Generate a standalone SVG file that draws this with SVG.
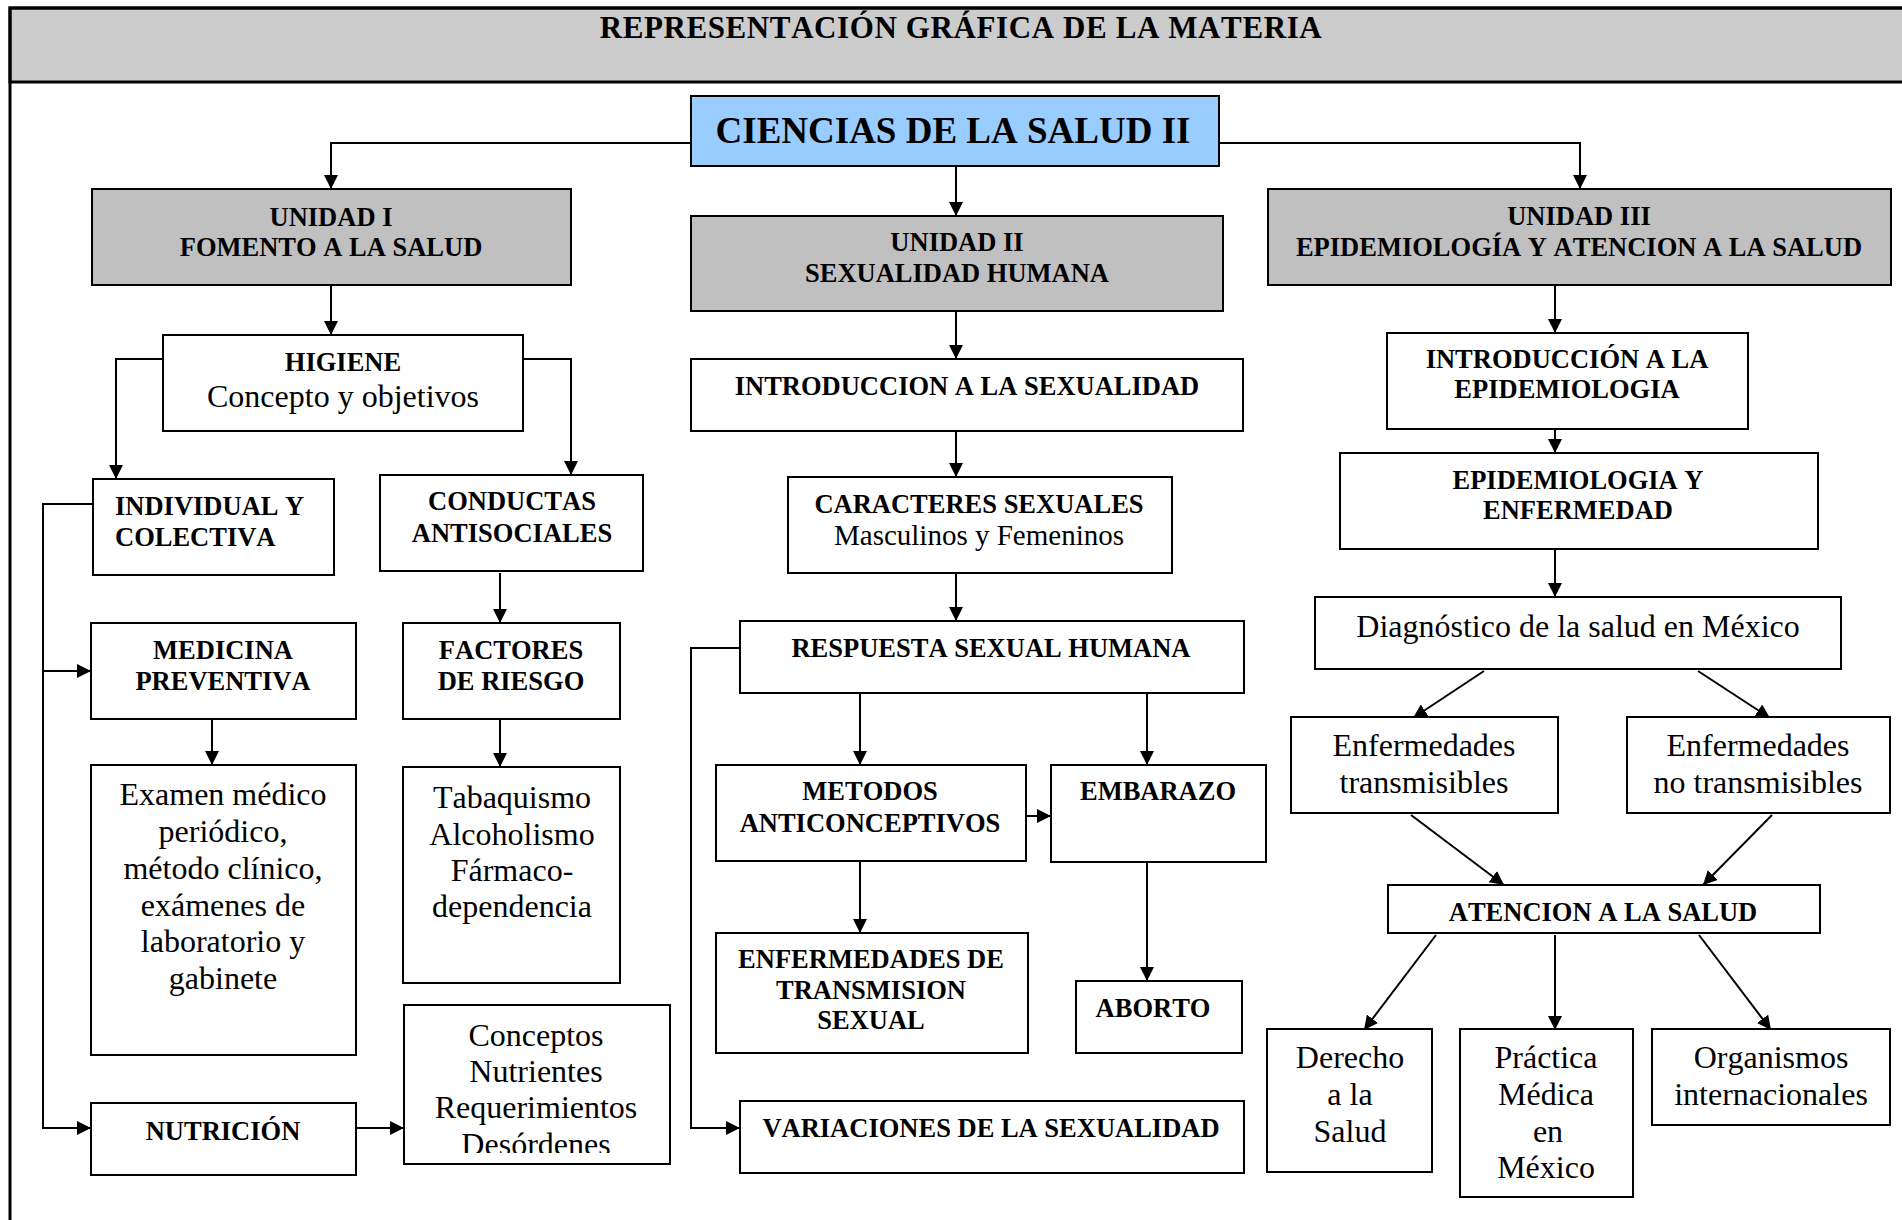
<svg xmlns="http://www.w3.org/2000/svg" width="1902" height="1220" viewBox="0 0 1902 1220">
<defs>
<style>
.box{fill:#ffffff;stroke:#000;stroke-width:2}
.unit{fill:#c0c0c0;stroke:#000;stroke-width:2}
.main{fill:#99ccff;stroke:#000;stroke-width:2}
text{font-family:"Liberation Serif","Times New Roman",serif;fill:#000;font-kerning:none}
.b{font-weight:bold;font-size:26.5px;text-anchor:middle}
.bl{font-weight:bold;font-size:26.5px;text-anchor:start}
.r{font-size:32px;text-anchor:middle}
.rs{font-size:29px;text-anchor:middle}
.conn path{fill:none;stroke:#000;stroke-width:2}
.conn .a{marker-end:url(#arr)}
</style>
<marker id="arr" markerUnits="userSpaceOnUse" markerWidth="14" markerHeight="14" refX="14" refY="7" orient="auto">
<path d="M0,0 L14,7 L0,14 z" fill="#000"/>
</marker>
<clipPath id="clipConceptos"><rect x="404" y="1005" width="266" height="148"/></clipPath>
</defs>
<rect width="1902" height="1220" fill="#ffffff"/>
<g id="frame">
<rect x="10" y="8" width="1900" height="74" fill="#cccccc" stroke="#000" stroke-width="3"/>
<rect x="10" y="8" width="1900" height="1220" fill="none" stroke="#000" stroke-width="3"/>
<text x="961" y="38" font-weight="bold" font-size="31" letter-spacing="0.6" text-anchor="middle">REPRESENTACIÓN GRÁFICA DE LA MATERIA</text>
</g>
<g class="conn" id="connectors">
<path class="a" d="M691,143 H331 V189"/>
<path class="a" d="M1219,143 H1580 V189"/>
<path class="a" d="M956,166 V216"/>
<path class="a" d="M331,285 V335"/>
<path class="a" d="M163,359 H116 V479"/>
<path class="a" d="M523,359 H571 V475"/>
<path class="a" d="M93,504 H43 V1128 H91"/>
<path class="a" d="M43,671 H91"/>
<path class="a" d="M212,719 V765"/>
<path class="a" d="M356,1128 H404"/>
<path class="a" d="M500,573 V623"/>
<path class="a" d="M500,719 V767"/>
<path class="a" d="M956,311 V359"/>
<path class="a" d="M956,431 V477"/>
<path class="a" d="M956,573 V621"/>
<path class="a" d="M740,648 H691 V1128 H740"/>
<path class="a" d="M860,693 V765"/>
<path class="a" d="M1147,693 V765"/>
<path class="a" d="M1026,816 H1051"/>
<path class="a" d="M860,861 V933"/>
<path class="a" d="M1147,862 V981"/>
<path class="a" d="M1555,285 V333"/>
<path class="a" d="M1555,429 V453"/>
<path class="a" d="M1555,549 V597"/>
<path class="a" d="M1484,671 L1413,718"/>
<path class="a" d="M1698,671 L1770,718"/>
<path class="a" d="M1411,815 L1504,885"/>
<path class="a" d="M1772,815 L1703,885"/>
<path class="a" d="M1436,935 L1364,1030"/>
<path class="a" d="M1555,935 V1030"/>
<path class="a" d="M1699,935 L1771,1030"/>
</g>
<g id="ciencias">
<rect class="main" x="691" y="96" width="528" height="70"/>
<text x="953" y="143" font-weight="bold" font-size="37" text-anchor="middle">CIENCIAS DE LA SALUD II</text>
</g>
<g id="unidad1">
<rect class="unit" x="92" y="189" width="479" height="96"/>
<text class="b" x="331" y="226">UNIDAD I</text>
<text class="b" x="331" y="256">FOMENTO A LA SALUD</text>
</g>
<g id="unidad2">
<rect class="unit" x="691" y="216" width="532" height="95"/>
<text class="b" x="957" y="251">UNIDAD II</text>
<text class="b" x="957" y="282">SEXUALIDAD HUMANA</text>
</g>
<g id="unidad3">
<rect class="unit" x="1268" y="189" width="623" height="96"/>
<text class="b" x="1579" y="225">UNIDAD III</text>
<text class="b" x="1579" y="256">EPIDEMIOLOGÍA Y ATENCION A LA SALUD</text>
</g>
<g id="higiene">
<rect class="box" x="163" y="335" width="360" height="96"/>
<text class="b" x="343" y="371">HIGIENE</text>
<text class="r" x="343" y="407">Concepto y objetivos</text>
</g>
<g id="individual">
<rect class="box" x="93" y="479" width="241" height="96"/>
<text class="bl" x="115" y="515">INDIVIDUAL Y</text>
<text class="bl" x="115" y="546">COLECTIVA</text>
</g>
<g id="conductas">
<rect class="box" x="380" y="475" width="263" height="96"/>
<text class="b" x="512" y="510">CONDUCTAS</text>
<text class="b" x="512" y="542">ANTISOCIALES</text>
</g>
<g id="medicina">
<rect class="box" x="91" y="623" width="265" height="96"/>
<text class="b" x="223" y="659">MEDICINA</text>
<text class="b" x="223" y="690">PREVENTIVA</text>
</g>
<g id="examen">
<rect class="box" x="91" y="765" width="265" height="290"/>
<text class="r" x="223" y="805">Examen médico</text>
<text class="r" x="223" y="842">periódico,</text>
<text class="r" x="223" y="879">método clínico,</text>
<text class="r" x="223" y="916">exámenes de</text>
<text class="r" x="223" y="952">laboratorio y</text>
<text class="r" x="223" y="989">gabinete</text>
</g>
<g id="nutricion">
<rect class="box" x="91" y="1103" width="265" height="72"/>
<text class="b" x="223" y="1140">NUTRICIÓN</text>
</g>
<g id="factores">
<rect class="box" x="403" y="623" width="217" height="96"/>
<text class="b" x="511" y="659">FACTORES</text>
<text class="b" x="511" y="690">DE RIESGO</text>
</g>
<g id="tabaquismo">
<rect class="box" x="403" y="767" width="217" height="216"/>
<text class="r" x="512" y="808">Tabaquismo</text>
<text class="r" x="512" y="845">Alcoholismo</text>
<text class="r" x="512" y="881">Fármaco-</text>
<text class="r" x="512" y="917">dependencia</text>
</g>
<g id="conceptos">
<rect class="box" x="404" y="1005" width="266" height="159"/>
<g clip-path="url(#clipConceptos)">
<text class="r" x="536" y="1046">Conceptos</text>
<text class="r" x="536" y="1082">Nutrientes</text>
<text class="r" x="536" y="1118">Requerimientos</text>
<text class="r" x="536" y="1155">Desórdenes</text>
</g>
</g>
<g id="intro-sexualidad">
<rect class="box" x="691" y="359" width="552" height="72"/>
<text class="b" x="967" y="395">INTRODUCCION A LA SEXUALIDAD</text>
</g>
<g id="caracteres">
<rect class="box" x="788" y="477" width="384" height="96"/>
<text class="b" x="979" y="513">CARACTERES SEXUALES</text>
<text class="rs" x="979" y="545">Masculinos y Femeninos</text>
</g>
<g id="respuesta">
<rect class="box" x="740" y="621" width="504" height="72"/>
<text class="b" x="991" y="657">RESPUESTA SEXUAL HUMANA</text>
</g>
<g id="metodos">
<rect class="box" x="716" y="765" width="310" height="96"/>
<text class="b" x="870" y="800">METODOS</text>
<text class="b" x="870" y="832">ANTICONCEPTIVOS</text>
</g>
<g id="embarazo">
<rect class="box" x="1051" y="765" width="215" height="97"/>
<text class="b" x="1158" y="800">EMBARAZO</text>
</g>
<g id="ets">
<rect class="box" x="716" y="933" width="312" height="120"/>
<text class="b" x="871" y="968">ENFERMEDADES DE</text>
<text class="b" x="871" y="999">TRANSMISION</text>
<text class="b" x="871" y="1029">SEXUAL</text>
</g>
<g id="aborto">
<rect class="box" x="1076" y="981" width="166" height="72"/>
<text class="b" x="1153" y="1017">ABORTO</text>
</g>
<g id="variaciones">
<rect class="box" x="740" y="1101" width="504" height="72"/>
<text class="b" x="991" y="1137">VARIACIONES DE LA SEXUALIDAD</text>
</g>
<g id="intro-epidemiologia">
<rect class="box" x="1387" y="333" width="361" height="96"/>
<text class="b" x="1567" y="368">INTRODUCCIÓN A LA</text>
<text class="b" x="1567" y="398">EPIDEMIOLOGIA</text>
</g>
<g id="epidemiologia-enfermedad">
<rect class="box" x="1340" y="453" width="478" height="96"/>
<text class="b" x="1578" y="489">EPIDEMIOLOGIA Y</text>
<text class="b" x="1578" y="519">ENFERMEDAD</text>
</g>
<g id="diagnostico">
<rect class="box" x="1315" y="597" width="526" height="72"/>
<text class="r" x="1578" y="637">Diagnóstico de la salud en México</text>
</g>
<g id="enf-transmisibles">
<rect class="box" x="1291" y="717" width="267" height="96"/>
<text class="r" x="1424" y="756">Enfermedades</text>
<text class="r" x="1424" y="793">transmisibles</text>
</g>
<g id="enf-no-transmisibles">
<rect class="box" x="1627" y="717" width="263" height="96"/>
<text class="r" x="1758" y="756">Enfermedades</text>
<text class="r" x="1758" y="793">no transmisibles</text>
</g>
<g id="atencion">
<rect class="box" x="1388" y="885" width="432" height="48"/>
<text class="b" x="1603" y="921">ATENCION A LA SALUD</text>
</g>
<g id="derecho">
<rect class="box" x="1267" y="1029" width="165" height="143"/>
<text class="r" x="1350" y="1068">Derecho</text>
<text class="r" x="1350" y="1105">a la</text>
<text class="r" x="1350" y="1142">Salud</text>
</g>
<g id="practica">
<rect class="box" x="1460" y="1029" width="173" height="168"/>
<text class="r" x="1546" y="1068">Práctica</text>
<text class="r" x="1546" y="1105">Médica</text>
<text class="r" x="1548" y="1142">en</text>
<text class="r" x="1546" y="1178">México</text>
</g>
<g id="organismos">
<rect class="box" x="1652" y="1029" width="238" height="96"/>
<text class="r" x="1771" y="1068">Organismos</text>
<text class="r" x="1771" y="1105">internacionales</text>
</g>
</svg>
